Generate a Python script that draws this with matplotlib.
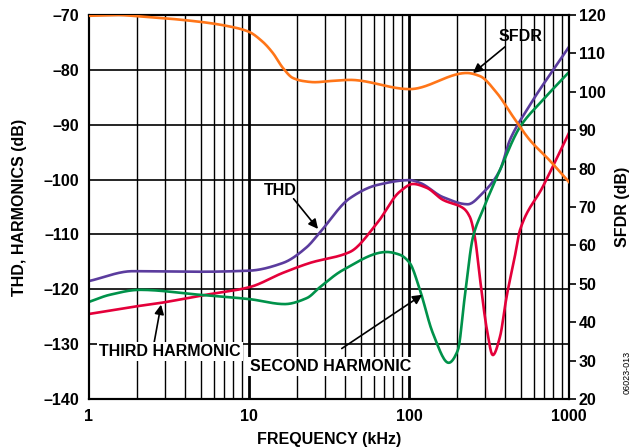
import numpy as np
import matplotlib
matplotlib.use('Agg')
import matplotlib.pyplot as plt
from matplotlib.ticker import FixedLocator, FuncFormatter, NullLocator

plt.rcParams['font.family'] = ['Liberation Sans', 'DejaVu Sans']

# frequency (kHz) / level (dB)
sfdr_f = [1, 1.5, 2, 5, 7.6, 9.9, 12.2, 14.1, 16.3, 18.8, 21.8, 25.8, 32.1, 42.7, 101, 230, 277, 354, 449, 570, 754, 1000]
sfdr_db = [119.8, 120, 119.7, 118.2, 117.0, 115.7, 113.0, 110.1, 106.2, 103.6, 102.8, 102.5, 102.8, 103.1, 100.7, 104.9, 104.1, 99.7, 93.4, 87.4, 82.2, 76.5]

thd_f = [1, 1.88, 5, 10.1, 16.3, 23, 27.8, 42.7, 63, 101, 117, 163, 233, 290, 370, 427, 545, 1000]
thd_db = [-118.5, -116.7, -116.8, -116.6, -115.2, -112.3, -109.6, -103.4, -101, -100.1, -100.6, -103.2, -104.5, -102.4, -98.3, -92.8, -87.3, -75.8]

third_f = [1, 1.88, 2.78, 4.9, 10.1, 16.3, 24, 42.7, 63, 87.6, 106, 129, 163, 218, 240, 258, 277, 307, 334, 370, 407, 458, 494, 686, 1000]
third_db = [-124.5, -123.2, -122.5, -121.2, -119.6, -117.0, -115.2, -113.2, -108.0, -102.2, -100.8, -101.5, -103.7, -105.2, -106.8, -110.5, -117.8, -127.4, -132.0, -128.7, -121.4, -114.1, -109.2, -101.3, -91.5]

second_f = [1, 1.35, 2.08, 4.9, 10.1, 16.7, 23, 27.8, 38.6, 72.6, 87.6, 101, 117, 141, 177, 202, 223, 251, 290, 370, 494, 686, 1000]
second_db = [-122.3, -121, -120.1, -121, -121.8, -122.7, -121.6, -119.6, -116.5, -113.2, -113.7, -115.2, -120.1, -128.0, -133.4, -131.1, -121.4, -110.5, -105.5, -98.3, -90.4, -85.5, -80.4]

left_ticks = [-140, -130, -120, -110, -100, -90, -80, -70]
right_ticks = [20, 30, 40, 50, 60, 70, 80, 90, 100, 110, 120]
x_ticks = [1, 10, 100, 1000]


def smooth(f, db, n=500):
    # monotone cubic (PCHIP-like) through the read points, in log frequency
    x = np.log10(f)
    y = np.asarray(db, dtype=float)
    xs = np.linspace(x[0], x[-1], n)
    h = np.diff(x)
    d = np.diff(y) / h
    m = np.zeros_like(y)
    m[0], m[-1] = d[0], d[-1]
    for i in range(1, len(y) - 1):
        if d[i - 1] * d[i] > 0:
            w1 = 2 * h[i] + h[i - 1]
            w2 = h[i] + 2 * h[i - 1]
            m[i] = (w1 + w2) / (w1 / d[i - 1] + w2 / d[i])
    idx = np.clip(np.searchsorted(x, xs) - 1, 0, len(x) - 2)
    t = (xs - x[idx]) / h[idx]
    h00 = 2 * t**3 - 3 * t**2 + 1
    h10 = t**3 - 2 * t**2 + t
    h01 = -2 * t**3 + 3 * t**2
    h11 = t**3 - t**2
    ys = h00 * y[idx] + h10 * h[idx] * m[idx] + h01 * y[idx + 1] + h11 * h[idx] * m[idx + 1]
    return 10**xs, ys


fig = plt.figure(figsize=(6.31, 4.48), dpi=100)
ax = fig.add_axes([89 / 631, 1 - 399 / 448, 480 / 631, 384 / 448])
ax2 = ax.twinx()

ax.set_xscale('log')
ax.set_xlim(1, 1000)
ax.set_ylim(-140, -70)
ax2.set_ylim(20, 120)

# grid
for dec in [1, 10, 100]:
    for k in range(2, 10):
        ax.axvline(dec * k, color='black', lw=1.0, zorder=1)
for v in [10, 100]:
    ax.axvline(v, color='black', lw=2.0, zorder=1)
for t in left_ticks[1:-1]:
    ax.axhline(t, color='black', lw=1.2, zorder=1)

lw = 1.9
x, y = smooth(thd_f, thd_db)
ax.plot(x, y, color='#5B3C9E', lw=lw, zorder=3)
x, y = smooth(third_f, third_db)
ax.plot(x, y, color='#E4003A', lw=lw, zorder=3)
x, y = smooth(second_f, second_db)
ax.plot(x, y, color='#00924A', lw=lw, zorder=3)
x, y = smooth(sfdr_f, sfdr_db)
ax2.plot(x, y, color='#FF7518', lw=lw, zorder=3)

fs = 11.5
minus = lambda v, p: ('%d' % v).replace('-', '\u2013')
ax.yaxis.set_major_locator(FixedLocator(left_ticks))
ax.yaxis.set_major_formatter(FuncFormatter(minus))
ax.xaxis.set_major_locator(FixedLocator(x_ticks))
ax.xaxis.set_major_formatter(FuncFormatter(lambda v, p: '%d' % v))
ax.xaxis.set_minor_locator(NullLocator())
ax2.yaxis.set_major_locator(FixedLocator(right_ticks))

for lab in ax.get_yticklabels() + ax.get_xticklabels() + ax2.get_yticklabels():
    lab.set_fontsize(fs)
    lab.set_fontweight('bold')
ax.tick_params(axis='both', length=0, pad=7)
ax.tick_params(axis='y', right=False)
ax2.tick_params(axis='y', length=5, width=1.2, direction='out', pad=2)

for a in (ax, ax2):
    for s in a.spines.values():
        s.set_linewidth(1.5)

ax.set_xlabel('FREQUENCY (kHz)', fontsize=fs, fontweight='bold', labelpad=6)
ax.set_ylabel('THD, HARMONICS (dB)', fontsize=fs, fontweight='bold', labelpad=12)
ax2.set_ylabel('SFDR (dB)', fontsize=fs, fontweight='bold', labelpad=7)

# annotations
arrow = dict(arrowstyle='-|>', color='black', lw=1.2, mutation_scale=14,
             shrinkA=0, shrinkB=0)
ax.annotate('', xy=(251, -80.6), xytext=(398, -75.8), arrowprops=arrow, zorder=5)
ax.text(494, -73.9, 'SFDR', fontsize=fs, fontweight='bold', ha='center', va='center', zorder=5)

ax.annotate('', xy=(27.0, -109.0), xytext=(19.0, -103.5), arrowprops=arrow, zorder=5)
ax.text(15.8, -102.0, 'THD', fontsize=fs, fontweight='bold', ha='center', va='center', zorder=5)

wb = dict(facecolor='white', edgecolor='none', pad=1.5)
ax.annotate('', xy=(2.82, -122.8), xytext=(2.55, -129.8), arrowprops=arrow, zorder=5)
ax.text(3.2, -131.3, 'THIRD HARMONIC', fontsize=fs, fontweight='bold', ha='center',
        va='center', bbox=wb, zorder=5)

ax.annotate('', xy=(121, -121.0), xytext=(38, -130.8), arrowprops=arrow, zorder=5)
ax.text(32.5, -134.0, 'SECOND HARMONIC', fontsize=fs, fontweight='bold', ha='center',
        va='center', bbox=wb, zorder=5)

fig.text(627 / 631, 1 - 372 / 448, '06023-013', fontsize=6.5, rotation=90,
         ha='center', va='center')

fig.savefig('out.png', dpi=100)
